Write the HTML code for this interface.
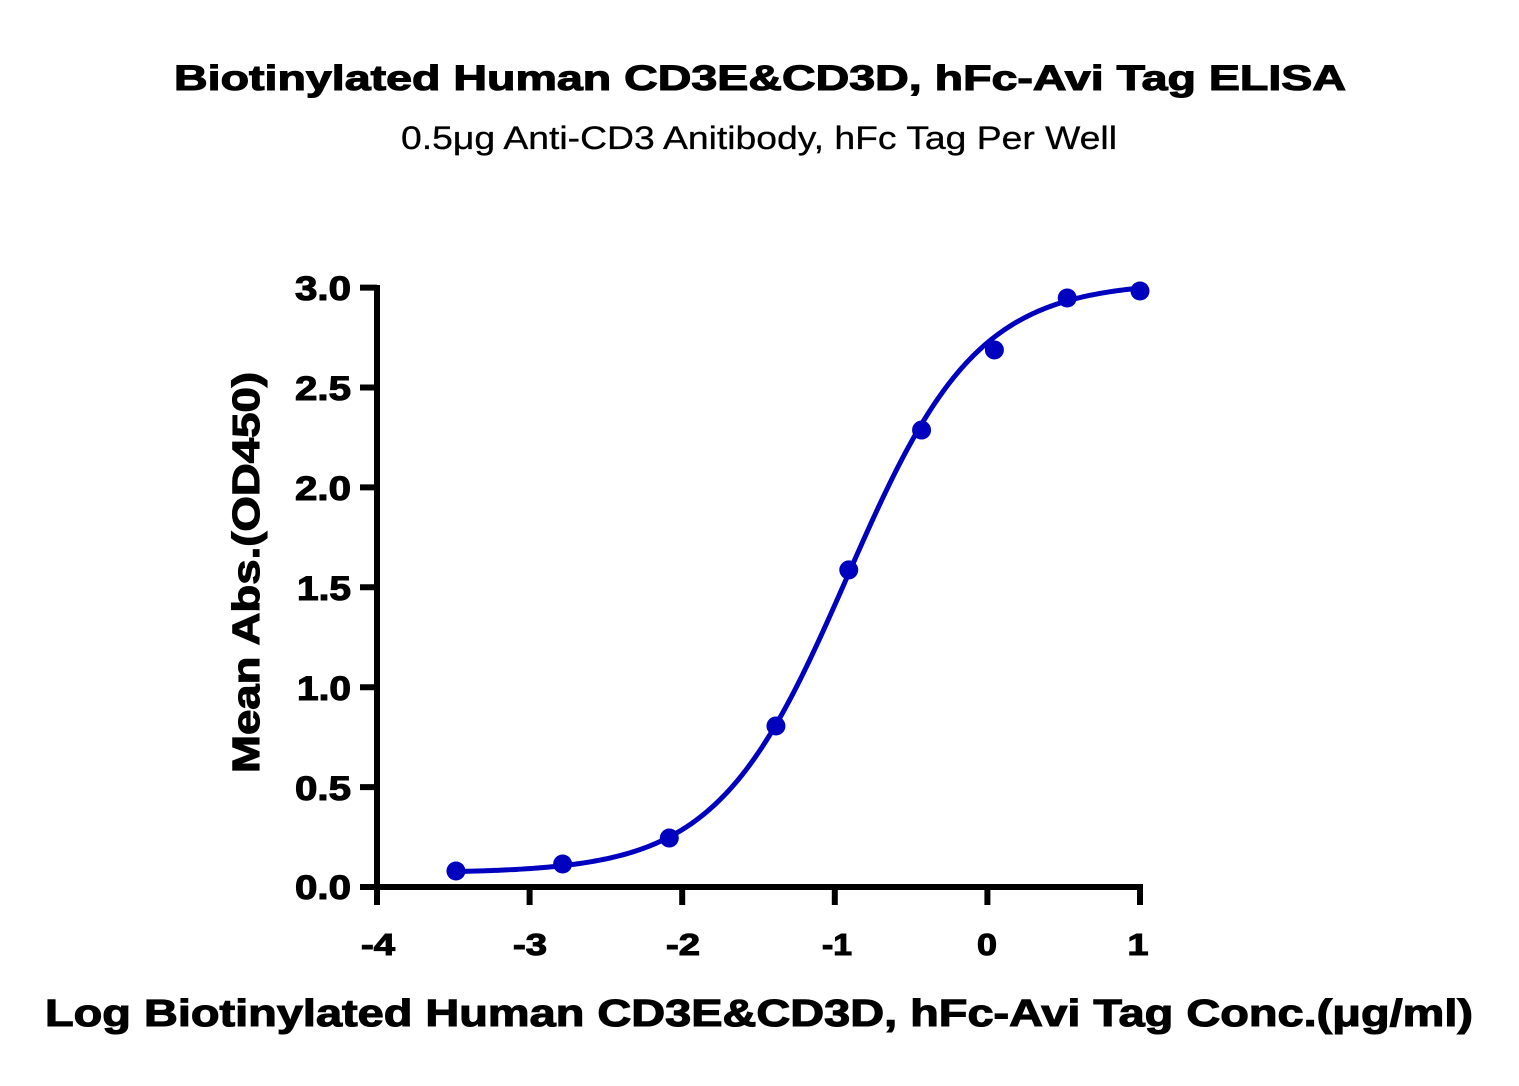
<!DOCTYPE html>
<html>
<head>
<meta charset="utf-8">
<style>
  html, body { margin:0; padding:0; background:#fff; }
  svg { display:block; }
  text { font-family: "Liberation Sans", "DejaVu Sans", sans-serif; fill:#000; }
  .hv { stroke:#000; stroke-width:1.1; paint-order:stroke; }
</style>
</head>
<body>
<svg id="chart" width="1519" height="1086" viewBox="0 0 1519 1086" xmlns="http://www.w3.org/2000/svg">
  <rect width="1519" height="1086" fill="#fff"/>
  <!-- Titles -->
  <text class="hv" x="174" y="90" font-size="35" font-weight="bold" textLength="1172" lengthAdjust="spacingAndGlyphs">Biotinylated Human CD3E&amp;CD3D, hFc-Avi Tag ELISA</text>
  <text x="401" y="149" font-size="32" textLength="716" lengthAdjust="spacingAndGlyphs" stroke="#000" stroke-width="0.3">0.5μg Anti-CD3 Anitibody, hFc Tag Per Well</text>

  <!-- Axes -->
  <g stroke="#000" stroke-width="6" fill="none">
    <line x1="377" y1="285" x2="377" y2="890"/>
    <line x1="374" y1="887" x2="1143" y2="887"/>
    <!-- y ticks -->
    <line x1="360" y1="287.6" x2="377" y2="287.6"/>
    <line x1="360" y1="387.5" x2="377" y2="387.5"/>
    <line x1="360" y1="487.4" x2="377" y2="487.4"/>
    <line x1="360" y1="587.3" x2="377" y2="587.3"/>
    <line x1="360" y1="687.2" x2="377" y2="687.2"/>
    <line x1="360" y1="787.1" x2="377" y2="787.1"/>
    <line x1="360" y1="887" x2="377" y2="887"/>
    <!-- x ticks -->
    <line x1="377" y1="887" x2="377" y2="905"/>
    <line x1="529.6" y1="887" x2="529.6" y2="905"/>
    <line x1="682.2" y1="887" x2="682.2" y2="905"/>
    <line x1="834.8" y1="887" x2="834.8" y2="905"/>
    <line x1="987.4" y1="887" x2="987.4" y2="905"/>
    <line x1="1140" y1="887" x2="1140" y2="905"/>
  </g>

  <!-- y tick labels -->
  <g class="hv" font-size="34" font-weight="bold" text-anchor="end">
    <text x="351" y="300" textLength="56" lengthAdjust="spacingAndGlyphs">3.0</text>
    <text x="351" y="400" textLength="56" lengthAdjust="spacingAndGlyphs">2.5</text>
    <text x="351" y="500" textLength="56" lengthAdjust="spacingAndGlyphs">2.0</text>
    <text x="351" y="600" textLength="54" lengthAdjust="spacingAndGlyphs">1.5</text>
    <text x="351" y="700" textLength="54" lengthAdjust="spacingAndGlyphs">1.0</text>
    <text x="351" y="800" textLength="56" lengthAdjust="spacingAndGlyphs">0.5</text>
    <text x="351" y="899" textLength="56" lengthAdjust="spacingAndGlyphs">0.0</text>
  </g>

  <!-- x tick labels -->
  <g class="hv" font-size="31" font-weight="bold" text-anchor="middle">
    <text x="378" y="955" textLength="34" lengthAdjust="spacingAndGlyphs">-4</text>
    <text x="530" y="955" textLength="34" lengthAdjust="spacingAndGlyphs">-3</text>
    <text x="683" y="955" textLength="34" lengthAdjust="spacingAndGlyphs">-2</text>
    <text x="837" y="955" textLength="30" lengthAdjust="spacingAndGlyphs">-1</text>
    <text x="987" y="955" textLength="20" lengthAdjust="spacingAndGlyphs">0</text>
    <text x="1138" y="955" textLength="21" lengthAdjust="spacingAndGlyphs">1</text>
  </g>

  <!-- axis titles -->
  <text class="hv" x="45" y="1026" font-size="38" font-weight="bold" textLength="1428" lengthAdjust="spacingAndGlyphs">Log Biotinylated Human CD3E&amp;CD3D, hFc-Avi Tag Conc.(μg/ml)</text>
  <text class="hv" transform="translate(259,773) rotate(-90)" x="0" y="0" font-size="38" font-weight="bold" textLength="401" lengthAdjust="spacingAndGlyphs">Mean Abs.(OD450)</text>

  <!-- curve -->
  <path id="curve" d="" fill="none" stroke="#0000bf" stroke-width="5" stroke-linejoin="round" stroke-linecap="round"/>
  <g id="dots" fill="#0000bf"></g>
</svg>
<script>
(function(){
  var X0 = 377, UX = 152.6;
  var Y0 = 887, UY = 199.8;
  function px(l){ return X0 + (l + 4) * UX; }
  function py(v){ return Y0 - v * UY; }
  var bottom = 0.07, top = 3.03, ec = -0.92, hill = 1.02;
  function f(l){ return bottom + (top - bottom) / (1 + Math.pow(10, (ec - l) * hill)); }
  var logs = [-3.4826, -2.7836, -2.0846, -1.3856, -0.9085, -0.4314, 0.0458, 0.523, 1.0];
  var vals = [0.080, 0.115, 0.245, 0.806, 1.587, 2.287, 2.688, 2.948, 2.983];
  var d = "";
  var n = 300;
  for (var i = 0; i <= n; i++) {
    var l = logs[0] + (logs[logs.length-1] - logs[0]) * i / n;
    d += (i ? "L" : "M") + px(l).toFixed(2) + "," + py(f(l)).toFixed(2);
  }
  document.getElementById("curve").setAttribute("d", d);
  var g = document.getElementById("dots");
  var ns = "http://www.w3.org/2000/svg";
  for (var j = 0; j < logs.length; j++) {
    var c = document.createElementNS(ns, "circle");
    c.setAttribute("cx", px(logs[j]).toFixed(2));
    c.setAttribute("cy", py(vals[j]).toFixed(2));
    c.setAttribute("r", "9.5");
    g.appendChild(c);
  }
})();
</script>
</body>
</html>
